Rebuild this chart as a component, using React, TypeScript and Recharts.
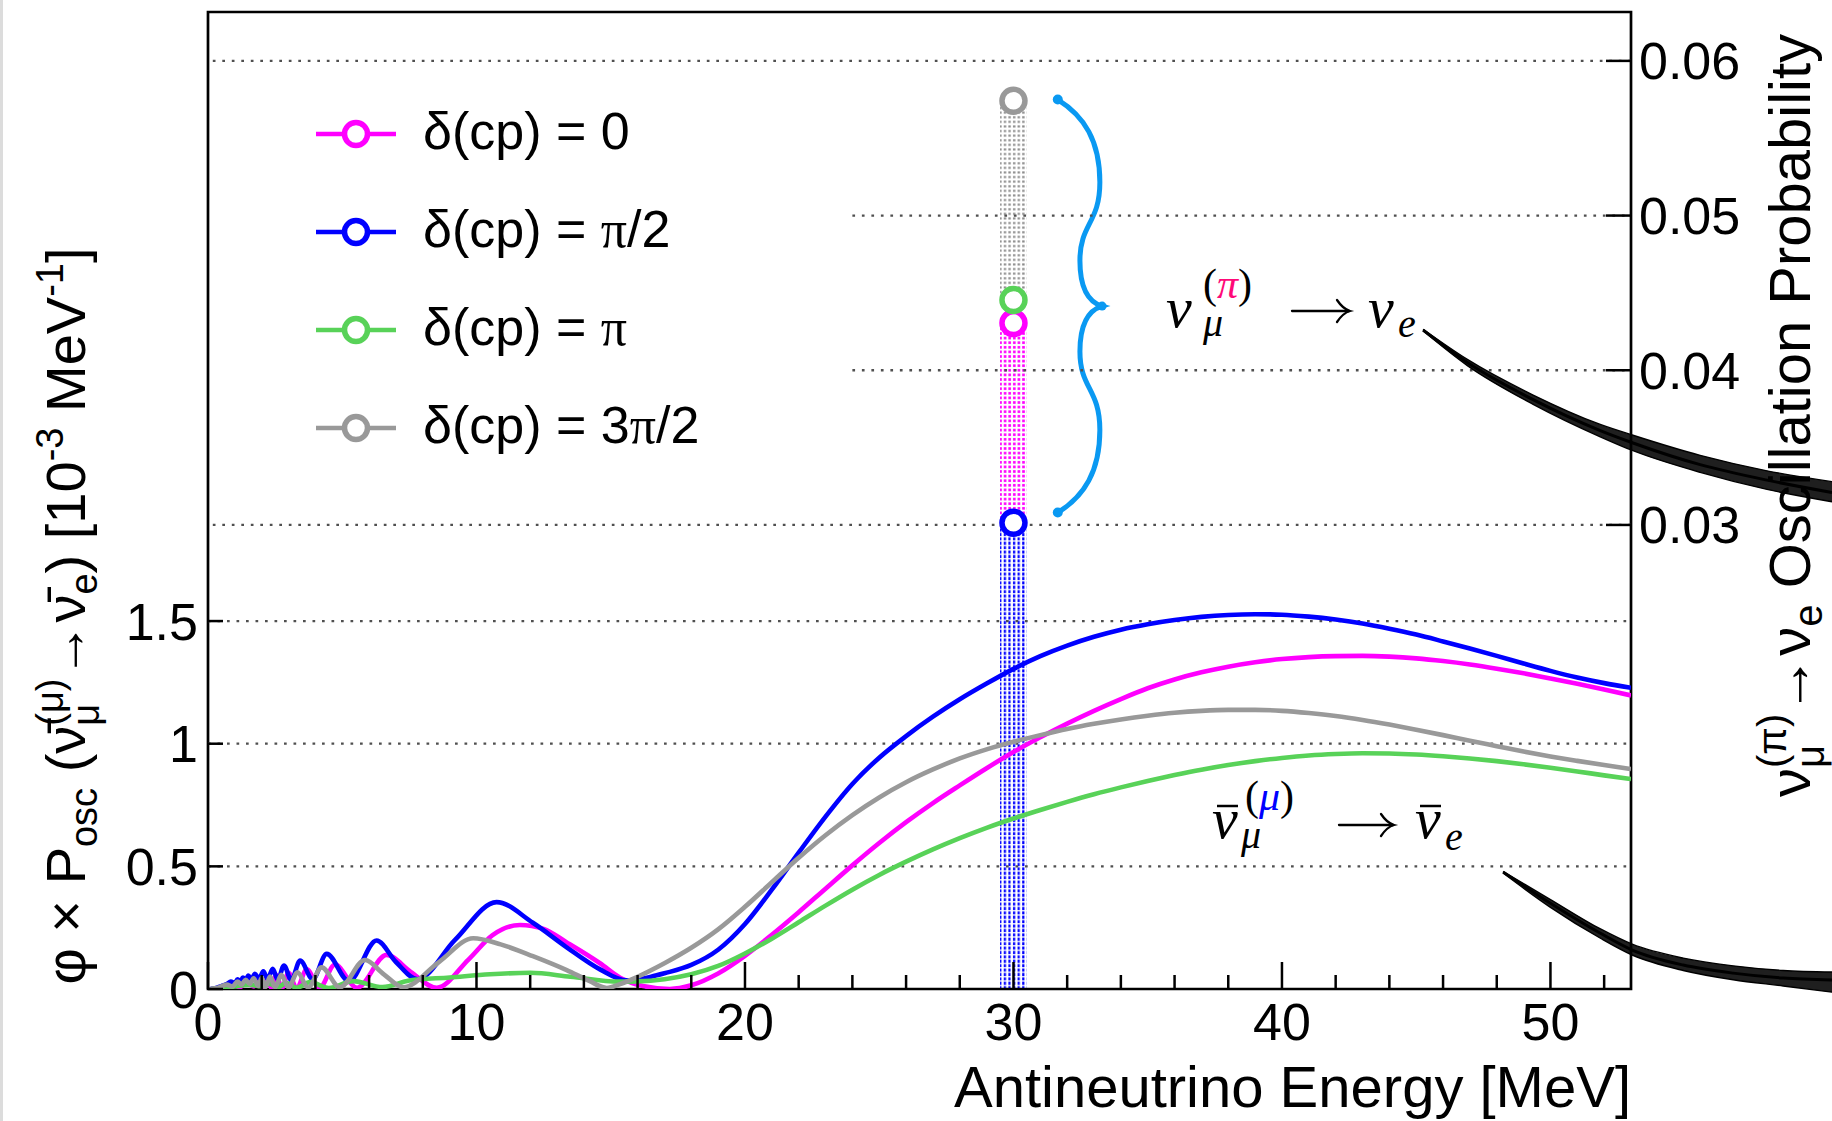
import React from 'react'
import {
  ComposedChart,
  Line,
  Area,
  XAxis,
  YAxis,
  ReferenceLine,
  ReferenceArea,
  ReferenceDot,
  Legend,
} from 'recharts'

// flux x P_osc [1e-3 / MeV] vs antineutrino energy [MeV]
const magentaCurve: [number, number][] = [
  [0.1, 0], [0.5, 0.006], [0.9, 0.016], [1.2, 0.008], [1.45, 0.03], [1.7, 0.01], [1.95, 0.042],
  [2.07, 0.006], [2.2, 0.05], [2.35, 0.005], [2.54, 0.057], [2.75, 0.004], [3.0, 0.066], [3.3, 0.004],
  [3.68, 0.08], [4.15, 0.004], [4.73, 0.1], [5.55, 0.005], [6.65, 0.139], [7.55, 0.07], [8.52, 0.005],
  [9.7, 0.12], [10.6, 0.22], [11.62, 0.261], [12.5, 0.245], [13.36, 0.19], [14.6, 0.105], [15.35, 0.046],
  [16.2, 0.012], [17.2, 0], [18, 0.015], [19, 0.063], [20, 0.135], [21, 0.221], [22, 0.313], [23, 0.409],
  [24, 0.504], [25, 0.595], [26, 0.68], [27, 0.758], [28, 0.83], [29, 0.9], [30, 0.966], [31, 1.026],
  [32, 1.082], [33, 1.134], [34, 1.182], [35, 1.226], [36, 1.262], [37, 1.291], [38, 1.314], [39, 1.332],
  [40, 1.345], [41, 1.353], [42, 1.357], [43, 1.358], [44, 1.355], [45, 1.348], [46, 1.337], [47, 1.323],
  [48, 1.306], [49, 1.287], [50, 1.266], [51, 1.244], [52, 1.221], [53, 1.197],
]

const blueCurve: [number, number][] = [
  [0.1, 0], [0.3, 0.004], [0.5, 0.012], [0.7, 0.02], [0.85, 0.03], [1.0, 0.024], [1.1, 0.04], [1.2, 0.03],
  [1.3, 0.047], [1.4, 0.036], [1.5, 0.055], [1.62, 0.04], [1.75, 0.062], [1.9, 0.042], [2.06, 0.072],
  [2.22, 0.04], [2.41, 0.082], [2.6, 0.038], [2.83, 0.096], [3.1, 0.036], [3.43, 0.116], [3.9, 0.04],
  [4.42, 0.143], [5.25, 0.032], [6.28, 0.198], [7.0, 0.11], [7.8, 0.04], [9.2, 0.2], [10.75, 0.354],
  [12.1, 0.27], [13.36, 0.17], [14.6, 0.08], [15.6, 0.035], [16.5, 0.05], [17, 0.064], [18, 0.098],
  [19, 0.16], [20, 0.265], [21, 0.405], [22, 0.556], [23, 0.703], [24, 0.836], [25, 0.943], [26, 1.031],
  [27, 1.11], [28, 1.181], [29, 1.245], [30, 1.305], [31, 1.357], [32, 1.4], [33, 1.436], [34, 1.465],
  [35, 1.487], [36, 1.504], [37, 1.517], [38, 1.525], [39, 1.528], [40, 1.526], [41, 1.518], [42, 1.506],
  [43, 1.49], [44, 1.469], [45, 1.445], [46, 1.417], [47, 1.388], [48, 1.358], [49, 1.327], [50, 1.297],
  [51, 1.27], [52, 1.247], [53, 1.228],
]

const greenCurve: [number, number][] = [
  [0.1, 0], [0.5, 0.004], [1.0, 0.01], [1.5, 0.018], [2.0, 0.01], [2.3, 0.022], [2.6, 0.006], [2.9, 0.025],
  [3.3, 0.005], [3.8, 0.028], [4.5, 0.004], [5.4, 0.032], [6.5, 0.008], [7.5, 0.035], [9.0, 0.047],
  [10.5, 0.06], [12.0, 0.066], [13.5, 0.05], [15.3, 0.03], [16, 0.031], [17, 0.04], [18, 0.06], [19, 0.094],
  [20, 0.145], [21, 0.205], [22, 0.272], [23, 0.34], [24, 0.405], [25, 0.465], [26, 0.519], [27, 0.569],
  [28, 0.615], [29, 0.657], [30, 0.695], [31, 0.73], [32, 0.763], [33, 0.794], [34, 0.822], [35, 0.848],
  [36, 0.872], [37, 0.894], [38, 0.913], [39, 0.929], [40, 0.942], [41, 0.952], [42, 0.958], [43, 0.961],
  [44, 0.96], [45, 0.956], [46, 0.949], [47, 0.94], [48, 0.929], [49, 0.916], [50, 0.902], [51, 0.887],
  [52, 0.871], [53, 0.856],
]

const grayCurve: [number, number][] = [
  [0.1, 0], [0.4, 0.006], [0.7, 0.018], [0.9, 0.01], [1.1, 0.03], [1.25, 0.018], [1.4, 0.038], [1.55, 0.02],
  [1.7, 0.044], [1.87, 0.012], [2.0, 0.046], [2.14, 0.008], [2.31, 0.051], [2.5, 0.006], [2.73, 0.058],
  [3.0, 0.006], [3.33, 0.068], [3.73, 0.006], [4.23, 0.088], [4.91, 0.007], [5.85, 0.118], [6.55, 0.06],
  [7.27, 0.007], [8.6, 0.11], [9.88, 0.207], [10.9, 0.182], [12.1, 0.134], [13.36, 0.077], [14.2, 0.033],
  [14.85, 0.004], [15.35, 0.02], [16, 0.05], [17, 0.105], [18, 0.168], [19, 0.243], [20, 0.335],
  [21, 0.435], [22, 0.535], [23, 0.627], [24, 0.709], [25, 0.781], [26, 0.843], [27, 0.895], [28, 0.94],
  [29, 0.977], [30, 1.008], [31, 1.035], [32, 1.06], [33, 1.081], [34, 1.099], [35, 1.114], [36, 1.126],
  [37, 1.134], [38, 1.138], [39, 1.138], [40, 1.134], [41, 1.125], [42, 1.113], [43, 1.097], [44, 1.078],
  [45, 1.057], [46, 1.035], [47, 1.012], [48, 0.99], [49, 0.968], [50, 0.948], [51, 0.93], [52, 0.913],
  [53, 0.897],
]

// oscillation probabilities (right axis), black bands running past the frame
const piProbEnergy = [45.25, 46.9, 49.35, 51.85, 53.07, 55.57, 58.06, 60.48]
const piProbCenter = [0.0426, 0.0405, 0.0381, 0.0361, 0.0353, 0.0339, 0.0329, 0.0321]
const piProbLow = [0.04255, 0.0403, 0.0378, 0.0357, 0.0348, 0.0334, 0.0323, 0.0315]
const piProbHigh = [0.04265, 0.0407, 0.0384, 0.0365, 0.0358, 0.0345, 0.0335, 0.0328]

const muProbEnergy = [48.23, 49.98, 51.84, 53.04, 54.94, 56.8, 58.66, 60.48]
const muProbCenter = [0.00756, 0.00556, 0.00362, 0.00252, 0.00155, 0.00103, 0.00071, 0.00058]
const muProbLow = [0.0075, 0.0053, 0.0033, 0.0022, 0.0012, 0.0006, 0.0002, -0.0002]
const muProbHigh = [0.0076, 0.0058, 0.0039, 0.0029, 0.002, 0.0015, 0.0012, 0.0011]

const legendLabels = ['δ(cp) = 0', 'δ(cp) = π/2', 'δ(cp) = π', 'δ(cp) = 3π/2']
const seriesColors = ['#ff00ff', '#0000ff', '#58d258', '#999999']
// nu_mu(pi) -> nu_e probability at 30 MeV, same order as the legend
const probAt30 = [0.04305, 0.03014, 0.04454, 0.05742]

const xTicks = [0, 2, 4, 6, 8, 10, 12, 14, 16, 18, 20, 22, 24, 26, 28, 30, 32, 34, 36, 38, 40, 42, 44, 46, 48, 50, 52]
const leftTicks = [0, 0.5, 1, 1.5]
const rightTicks = [0.03, 0.04, 0.05, 0.06]
const leftGrid = [0.5, 1, 1.5]
const rightGridFull = [0.03, 0.06]
const rightGridPartial = [0.04, 0.05]

const X_MAX = 53
const LEFT_MAX = 3.983
const RIGHT_MAX = 0.06316
const OVERLAY_X_MAX = 60.48
const OVERLAY_Y_MIN = -0.00853

const toPoints = (c: [number, number][]) => c.map(([e, v]) => ({ e, v }))
const toBand = (es: number[], mid: number[], lo: number[], hi: number[]) =>
  es.map((e, i) => ({ e, v: mid[i], range: [lo[i], hi[i]] }))

const gridStyle = { stroke: '#505050', strokeWidth: 2.3, strokeDasharray: '2.7 6.8' }

const XTick = (props: any) => {
  const { x, y, payload } = props
  const major = payload.value % 10 === 0
  return (
    <g>
      <line x1={x} x2={x} y1={y} y2={y - (major ? 27 : 14)} stroke="#000" strokeWidth={2.5} />
      {major && (
        <text x={x} y={y + 51} textAnchor="middle" fontSize={52} fill="#000">
          {payload.value}
        </text>
      )}
    </g>
  )
}

const LeftTick = (props: any) => {
  const { x, y, payload } = props
  return (
    <g>
      <line x1={x} x2={x + 15} y1={y} y2={y} stroke="#000" strokeWidth={2.5} />
      <text x={x - 10} y={y + 18.5} textAnchor="end" fontSize={52} fill="#000">
        {payload.value}
      </text>
    </g>
  )
}

const RightTick = (props: any) => {
  const { x, y, payload } = props
  return (
    <g>
      <line x1={x} x2={x - 25} y1={y} y2={y} stroke="#000" strokeWidth={2.5} />
      <text x={x + 8} y={y + 18.5} textAnchor="start" fontSize={52} fill="#000">
        {Number(payload.value).toFixed(2)}
      </text>
    </g>
  )
}

const Brace = (props: any) => {
  const { x, y, width: w, height: h } = props
  const p = (nx: number, ny: number) => `${x + nx * w} ${y + ny * h}`
  const d =
    `M ${p(0, 0)} C ${p(0.6, 0.04)} ${p(0.95, 0.1)} ${p(0.95, 0.2)} ` +
    `C ${p(0.95, 0.3)} ${p(0.5, 0.3)} ${p(0.5, 0.39)} ` +
    `C ${p(0.5, 0.46)} ${p(0.7, 0.49)} ${p(1, 0.5)} ` +
    `C ${p(0.7, 0.51)} ${p(0.5, 0.54)} ${p(0.5, 0.61)} ` +
    `C ${p(0.5, 0.7)} ${p(0.95, 0.7)} ${p(0.95, 0.8)} ` +
    `C ${p(0.95, 0.9)} ${p(0.6, 0.96)} ${p(0, 1)}`
  return (
    <g>
      <path d={d} fill="none" stroke="#0a99f2" strokeWidth={5} strokeLinecap="round" />
      <circle cx={x} cy={y} r={5} fill="#0a99f2" />
      <circle cx={x} cy={y + h} r={5} fill="#0a99f2" />
      <circle cx={x + w} cy={y + h / 2} r={4.5} fill="#0a99f2" />
    </g>
  )
}

// thin math-style arrow for the annotations
const Arrow = ({ x1, x2, y }: { x1: number; x2: number; y: number }) => (
  <g fill="none" stroke="#000" strokeWidth={2.3} strokeLinecap="round">
    <line x1={x1} x2={x2 - 1} y1={y} y2={y} />
    <path d={`M ${x2 - 13} ${y - 11} Q ${x2 - 7} ${y - 2} ${x2} ${y} Q ${x2 - 7} ${y + 2} ${x2 - 13} ${y + 11}`} />
  </g>
)

const withPi = (label: string) => {
  const parts = label.split('π')
  return parts.map((part, i) => (
    <React.Fragment key={i}>
      {part}
      {i < parts.length - 1 && <tspan fontFamily="Liberation Serif, serif">π</tspan>}
    </React.Fragment>
  ))
}

const LegendBox = () => (
  <svg width={420} height={360} style={{ display: 'block' }}>
    {legendLabels.map((label, i) => {
      const cy = 34 + i * 98
      return (
        <g key={label}>
          <line x1={16} x2={96} y1={cy} y2={cy} stroke={seriesColors[i]} strokeWidth={4.5} />
          <circle cx={56} cy={cy} r={11.5} fill="#fff" stroke={seriesColors[i]} strokeWidth={5.5} />
          <text x={123} y={cy + 15} fontSize={52} fill="#000" textAnchor="start">
            {withPi(label)}
          </text>
        </g>
      )
    })}
  </svg>
)

const series = [magentaCurve, blueCurve, greenCurve, grayCurve]
// drawing order for the 30 MeV markers: blue, magenta, green, gray
const markerOrder = [1, 0, 2, 3]

export default function App() {
  const [pMag, pBlue, pGreen, pGray] = probAt30
  const small = 38
  const piBand = toBand(piProbEnergy, piProbCenter, piProbLow, piProbHigh)
  const muBand = toBand(muProbEnergy, muProbCenter, muProbLow, muProbHigh)
  return (
    <div
      style={{
        position: 'absolute',
        left: 0,
        top: 0,
        width: 1832,
        height: 1121,
        background: '#fff',
        fontFamily: 'Liberation Sans, Arial, sans-serif',
        overflow: 'hidden',
      }}
    >
      <svg width={0} height={0} style={{ position: 'absolute' }}>
        <defs>
          <pattern id="dotsBlue" width={4.6} height={4.4} patternUnits="userSpaceOnUse">
            <rect x={1} y={0.5} width={2.2} height={3.1} fill="#0000ff" />
          </pattern>
          <pattern id="dotsMagenta" width={4.6} height={4.6} patternUnits="userSpaceOnUse">
            <rect x={1} y={1} width={2.6} height={2.6} fill="#ff00ff" />
          </pattern>
          <pattern id="dotsGray" width={4.6} height={4.6} patternUnits="userSpaceOnUse">
            <rect x={1} y={1.2} width={2.4} height={2.1} fill="#8c8c8c" />
          </pattern>
        </defs>
      </svg>

      <div style={{ position: 'absolute', left: 0, top: 0 }}>
        <ComposedChart width={1832} height={1121} margin={{ top: 12, right: 91, bottom: 72, left: 100 }}>
          <XAxis
            type="number"
            dataKey="e"
            domain={[0, X_MAX]}
            allowDataOverflow
            ticks={xTicks}
            interval={0}
            tick={<XTick />}
            tickLine={false}
            axisLine={false}
            tickSize={0}
            tickMargin={0}
            height={60}
          />
          <YAxis
            yAxisId="left"
            type="number"
            dataKey="v"
            domain={[0, LEFT_MAX]}
            allowDataOverflow
            ticks={leftTicks}
            interval={0}
            tick={<LeftTick />}
            tickLine={false}
            axisLine={false}
            tickSize={0}
            tickMargin={0}
            width={108}
          />
          <YAxis
            yAxisId="right"
            orientation="right"
            type="number"
            domain={[0, RIGHT_MAX]}
            allowDataOverflow
            ticks={rightTicks}
            interval={0}
            tick={<RightTick />}
            tickLine={false}
            axisLine={false}
            tickSize={0}
            tickMargin={0}
            width={110}
          />

          {leftGrid.map((g) => (
            <ReferenceLine key={'l' + g} yAxisId="left" y={g} {...gridStyle} />
          ))}
          {rightGridFull.map((g) => (
            <ReferenceLine key={'r' + g} yAxisId="right" y={g} {...gridStyle} />
          ))}
          {rightGridPartial.map((g) => (
            <ReferenceLine
              key={'p' + g}
              yAxisId="right"
              segment={[
                { x: 24, y: g },
                { x: X_MAX, y: g },
              ]}
              {...gridStyle}
            />
          ))}

          <ReferenceArea yAxisId="right" x1={29.5} x2={30.5} y1={0} y2={pBlue} fill="url(#dotsBlue)" fillOpacity={1} stroke="none" ifOverflow="visible" />
          <ReferenceArea yAxisId="right" x1={29.5} x2={30.5} y1={pBlue} y2={pMag} fill="url(#dotsMagenta)" fillOpacity={1} stroke="none" ifOverflow="visible" />
          <ReferenceArea yAxisId="right" x1={29.5} x2={30.5} y1={pGreen} y2={pGray} fill="url(#dotsGray)" fillOpacity={1} stroke="none" ifOverflow="visible" />

          <ReferenceArea
            yAxisId="left"
            x1={0}
            x2={X_MAX}
            y1={0}
            y2={LEFT_MAX}
            fill="none"
            fillOpacity={0}
            stroke="#000"
            strokeWidth={2.7}
            ifOverflow="visible"
          />

          {series.map((s, i) => (
            <Line
              key={legendLabels[i]}
              name={legendLabels[i]}
              data={toPoints(s)}
              dataKey="v"
              yAxisId="left"
              type="monotone"
              stroke={seriesColors[i]}
              strokeWidth={4.6}
              dot={false}
              activeDot={false}
              isAnimationActive={false}
            />
          ))}

          <ReferenceArea
            yAxisId="right"
            x1={31.65}
            x2={33.3}
            y1={0.0308}
            y2={0.0575}
            ifOverflow="visible"
            shape={(props: any) => <Brace {...props} />}
          />

          {markerOrder.map((i) => (
            <ReferenceDot
              key={'m' + i}
              yAxisId="right"
              x={30}
              y={probAt30[i]}
              r={11.5}
              fill="#fff"
              stroke={seriesColors[i]}
              strokeWidth={5.5}
              ifOverflow="visible"
            />
          ))}

          <Legend
            layout="vertical"
            align="center"
            verticalAlign="middle"
            wrapperStyle={{ left: 300, top: 100, width: 420, height: 360 }}
            content={() => <LegendBox />}
          />
        </ComposedChart>
      </div>

      <svg width={1832} height={1121} style={{ position: 'absolute', left: 0, top: 0 }}>
        <text x={1631} y={1107} textAnchor="end" fontSize={58} fill="#000">
          Antineutrino Energy [MeV]
        </text>

        <text transform="translate(85,616) rotate(-90)" textAnchor="middle" fontSize={56} fill="#000">
          <tspan>φ × P</tspan>
          <tspan fontSize={small} dy={12}>osc</tspan>
          <tspan dy={-12}> (ν̄</tspan>
          <tspan fontSize={small} dy={14}>μ</tspan>
          <tspan fontSize={small} dx={-22} dy={-36}>(μ)</tspan>
          <tspan dy={22}>→ν̄</tspan>
          <tspan fontSize={small} dy={12}>e</tspan>
          <tspan dy={-12}>) [10</tspan>
          <tspan fontSize={small} dy={-22}>-3</tspan>
          <tspan dy={22}> MeV</tspan>
          <tspan fontSize={small} dy={-22}>-1</tspan>
          <tspan dy={22}>]</tspan>
        </text>

        <text transform="translate(1810,797) rotate(-90)" textAnchor="start" fontSize={58} fill="#000">
          <tspan>ν</tspan>
          <tspan fontSize={40} dy={14}>μ</tspan>
          <tspan fontSize={40} dx={-23} dy={-38}>(π)</tspan>
          <tspan dy={24}>→ν</tspan>
          <tspan fontSize={40} dy={12}>e</tspan>
          <tspan dy={-12}> Oscillation Probability</tspan>
        </text>

        <g fontFamily="Liberation Serif, serif" fill="#000">
          <text x={1166} y={327} fontSize={58} fontStyle="italic">ν</text>
          <text x={1203} y={336} fontSize={40} fontStyle="italic">μ</text>
          <text x={1203} y={298} fontSize={42}>
            <tspan>(</tspan>
            <tspan fill="#ff0a78" fontStyle="italic">π</tspan>
            <tspan>)</tspan>
          </text>
          <Arrow x1={1292} x2={1350} y={311} />
          <text x={1368} y={327} fontSize={58} fontStyle="italic">ν</text>
          <text x={1398} y={337} fontSize={40} fontStyle="italic">e</text>

          <text x={1212} y={838} fontSize={58} fontStyle="italic">ν</text>
          <line x1={1217} x2={1238} y1={806} y2={806} stroke="#000" strokeWidth={2.5} />
          <text x={1241} y={848} fontSize={40} fontStyle="italic">μ</text>
          <text x={1245} y={810} fontSize={42}>
            <tspan>(</tspan>
            <tspan fill="#0000ff" fontStyle="italic">μ</tspan>
            <tspan>)</tspan>
          </text>
          <Arrow x1={1339} x2={1394} y={825} />
          <text x={1415} y={838} fontSize={58} fontStyle="italic">ν</text>
          <line x1={1420} x2={1441} y1={806} y2={806} stroke="#000" strokeWidth={2.5} />
          <text x={1445} y={850} fontSize={40} fontStyle="italic">e</text>
        </g>
      </svg>

      <div style={{ position: 'absolute', left: 0, top: 0 }}>
        <ComposedChart width={1832} height={1121} margin={{ top: 12, right: 0, bottom: 0, left: 208 }}>
          <XAxis type="number" dataKey="e" domain={[0, OVERLAY_X_MAX]} allowDataOverflow hide height={0} />
          <YAxis type="number" domain={[OVERLAY_Y_MIN, RIGHT_MAX]} allowDataOverflow hide width={0} />
          {[piBand, muBand].map((band, i) => (
            <Area
              key={'band' + i}
              data={band}
              dataKey="range"
              type="monotone"
              fill="#000"
              fillOpacity={0.88}
              stroke="#000"
              strokeWidth={1.4}
              dot={false}
              activeDot={false}
              isAnimationActive={false}
            />
          ))}
          {[piBand, muBand].map((band, i) => (
            <Line
              key={'center' + i}
              data={band}
              dataKey="v"
              type="monotone"
              stroke="#000"
              strokeWidth={3}
              dot={false}
              activeDot={false}
              isAnimationActive={false}
            />
          ))}
        </ComposedChart>
      </div>

      <div style={{ position: 'absolute', left: 0, top: 0, width: 3, height: 1121, background: '#dcdcdc' }} />
    </div>
  )
}
